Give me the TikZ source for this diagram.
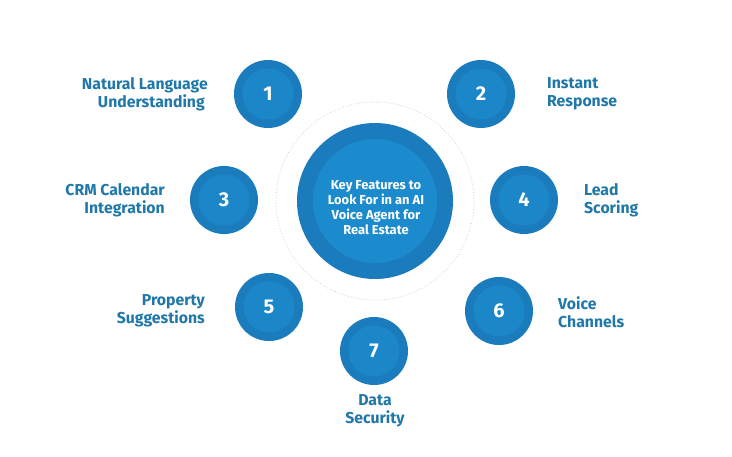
\documentclass[tikz,border=0pt]{standalone}
\usepackage{fontspec}
\setmainfont{Fira Sans}
\definecolor{outerblue}{HTML}{1A7CBD}
\definecolor{innerblue}{HTML}{1C8BCD}
\definecolor{smallinner}{HTML}{1C87C8}
\definecolor{labelblue}{HTML}{1F78A9}
\tikzset{
  x=1pt,y=-1pt,
  outerdisc/.style={circle,fill=outerblue,minimum size=68pt,inner sep=0pt},
  innerdisc/.style={circle,fill=smallinner,minimum size=51pt,inner sep=0pt,text=white,font=\fontsize{20}{20}\selectfont\bfseries},
  featurelabel/.style={text=labelblue,font=\fontsize{15.8}{18.2}\selectfont\bfseries,inner sep=0pt},
  ring/.style={draw=black!18,line width=0.8pt,dotted}
}
\newcommand{\featdisc}[4]{%
  \node[outerdisc] (o#1) at (#2,#3) {};
  \node[innerdisc] (i#1) at (#2,#3) {#4};
}
\begin{document}
\begin{tikzpicture}
\useasboundingbox[fill=white] (0,0) rectangle (732,456);
\coordinate (ctr) at (375,201);
\draw[ring] (ctr) circle[radius=99];
\node[circle,fill=outerblue,minimum size=156pt,inner sep=0pt] (co) at (ctr) {};
\node[circle,fill=innerblue,minimum size=124pt,inner sep=0pt] (ci) at (ctr) {};
\node[text=white,align=center,inner sep=0pt,font=\fontsize{12.9}{15}\selectfont\bfseries] (title) at (376,207.5) {Key Features to\\Look For in an AI\\Voice Agent for\\Real Estate};
\featdisc{1}{268}{94}{1}
\featdisc{2}{481}{94}{2}
\featdisc{3}{224}{200}{3}
\featdisc{4}{524}{200}{4}
\featdisc{5}{269}{307}{5}
\featdisc{6}{499}{311}{6}
\featdisc{7}{374}{351}{7}
\node[featurelabel,align=right,anchor=east] (l1) at (208,94) {Natural Language\\Understanding\rule{3pt}{0pt}};
\node[featurelabel,align=left,anchor=west] (l2) at (547,94) {Instant\\Response};
\node[featurelabel,align=right,anchor=east] (l3) at (165,200) {CRM Calendar\\Integration};
\node[featurelabel,align=left,anchor=west] (l4) at (584,200) {Lead\\Scoring};
\node[featurelabel,align=right,anchor=east] (l5) at (205,311) {Property\\Suggestions};
\node[featurelabel,align=left,anchor=west] (l6) at (558,312) {Voice\\Channels};
\node[featurelabel,align=center] (l7) at (375,411) {Data\\Security};
\end{tikzpicture}
\end{document}
